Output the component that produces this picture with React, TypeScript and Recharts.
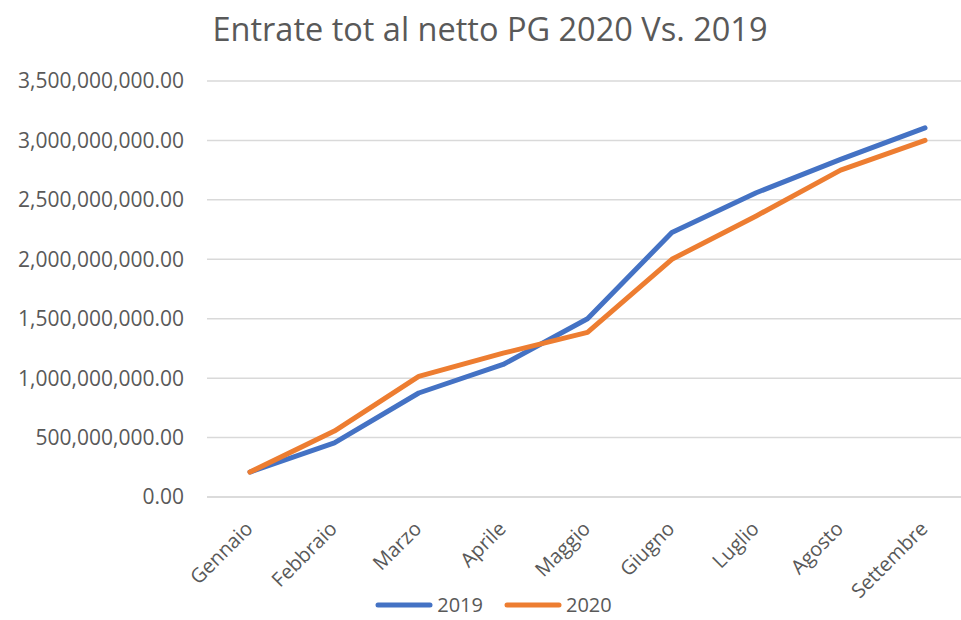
import React from 'react';
import { LineChart, Line, XAxis, YAxis, CartesianGrid, Legend } from 'recharts';

const months = ['Gennaio', 'Febbraio', 'Marzo', 'Aprile', 'Maggio', 'Giugno', 'Luglio', 'Agosto', 'Settembre'];
const entrate2019 = [210000000, 455000000, 875000000, 1115000000, 1500000000, 2225000000, 2560000000, 2840000000, 3105000000];
const entrate2020 = [210000000, 555000000, 1015000000, 1210000000, 1385000000, 2000000000, 2365000000, 2750000000, 3000000000];
const yTicks = [0, 500000000, 1000000000, 1500000000, 2000000000, 2500000000, 3000000000, 3500000000];
const seriesNames = ['2019', '2020'];
const colors = ['#4472C4', '#ED7D31'];

const data = months.map((m, i) => ({ month: m, s2019: entrate2019[i], s2020: entrate2020[i] }));

const FONT = '"Open Sans", sans-serif';
const GREY = '#595959';

const fmt = (v: number) =>
  v.toLocaleString('en-US', { minimumFractionDigits: 2, maximumFractionDigits: 2 });

const XTick = (props: any) => {
  const { x, y, payload } = props;
  return (
    <g transform={`translate(${x + 4},${y + 25})`}>
      <text
        x={0}
        y={0}
        textAnchor="end"
        transform="rotate(-45)"
        fill={GREY}
        fontSize={20}
        fontFamily={FONT}
      >
        {payload.value}
      </text>
    </g>
  );
};

const LegendContent = () => (
  <div style={{ height: 30, display: 'flex', justifyContent: 'center', alignItems: 'center', fontFamily: FONT, fontSize: 20, lineHeight: '20px', color: GREY, paddingLeft: 26 }}>
    {seriesNames.map((n, i) => (
      <div key={n} style={{ display: 'flex', alignItems: 'center', marginRight: i === 0 ? 21 : 0, height: 20 }}>
        <svg width={58} height={10} style={{ marginRight: 4 }}>
          <line x1={3} y1={5} x2={55} y2={5} stroke={colors[i]} strokeWidth={5} strokeLinecap="round" />
        </svg>
        <span style={{ lineHeight: '20px' }}>{n}</span>
      </div>
    ))}
  </div>
);

export default function App() {
  return (
    <div style={{ position: 'absolute', left: 0, top: 0, width: 961, height: 620, background: '#fff' }}>
      <div
        style={{
          position: 'absolute',
          left: 0,
          top: 8,
          width: 980,
          textAlign: 'center',
          fontFamily: FONT,
          fontSize: 32.5,
          color: GREY,
          lineHeight: '42px',
        }}
      >
        Entrate tot al netto PG 2020 Vs. 2019
      </div>
      <LineChart
        width={961}
        height={620}
        data={data}
        margin={{ top: 81, right: 0, left: 0, bottom: 0 }}
      >
        <CartesianGrid vertical={false} stroke="#d9d9d9" strokeWidth={1.5} />
        <XAxis
          dataKey="month"
          axisLine={{ stroke: '#d9d9d9', strokeWidth: 1.5 }}
          tickLine={false}
          interval={0}
          padding={{ left: 43, right: 36 }}
          height={93}
          tick={<XTick />}
        />
        <YAxis
          width={207}
          domain={[0, 3500000000]}
          ticks={yTicks}
          tickFormatter={fmt}
          axisLine={false}
          tickLine={false}
          tick={{ fill: GREY, fontSize: 21, fontFamily: FONT }}
          tickMargin={17}
        />
        <Legend verticalAlign="bottom" height={30} content={<LegendContent />} />
        <Line
          type="linear"
          dataKey="s2019"
          name={seriesNames[0]}
          stroke={colors[0]}
          strokeWidth={5}
          strokeLinecap="round"
          strokeLinejoin="round"
          dot={false}
          isAnimationActive={false}
        />
        <Line
          type="linear"
          dataKey="s2020"
          name={seriesNames[1]}
          stroke={colors[1]}
          strokeWidth={5}
          strokeLinecap="round"
          strokeLinejoin="round"
          dot={false}
          isAnimationActive={false}
        />
      </LineChart>
    </div>
  );
}
